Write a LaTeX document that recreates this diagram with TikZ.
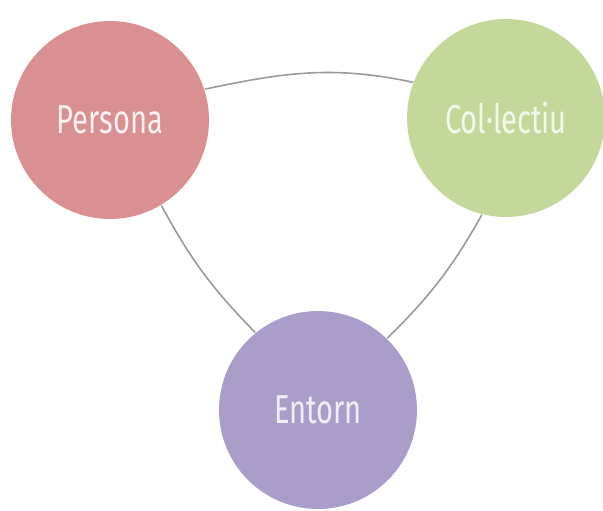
\documentclass[tikz,border=0pt]{standalone}
\usepackage{fontspec}
\newfontfamily\etiqueta[FakeStretch=0.72]{Fira Sans}
\definecolor{rosa}{HTML}{DA8F90}
\definecolor{verd}{HTML}{C5D89B}
\definecolor{lila}{HTML}{AB9DCA}
\definecolor{linia}{HTML}{9A9A9A}
\tikzstyle{cercle} = [circle,
                     minimum size=3.96cm,
                     inner sep=0pt,
                     font=\etiqueta\fontsize{23}{23}\selectfont]
\tikzstyle{diagrama} = [x=0.02cm,
                       y=-0.02cm,
                       line width=0.9pt,
                       draw=linia]

\begin{document}
\begin{tikzpicture}[diagrama]
    \useasboundingbox (0,0) rectangle (603,511);
    \node (persona) at (110,120) [cercle, fill=rosa, text=white!88!rosa] {Persona};
    \node (collectiu) at (506,118) [cercle, fill=verd, text=white!80!verd] {Col·lectiu};
    \node (entorn) at (318,410) [cercle, fill=lila, text=white!82!lila] {Entorn};
    \path[draw=linia]
      (persona.18) edge [out=12, in=168] (collectiu.159)
      (persona.-59) edge [bend right=8] (entorn.129)
      (collectiu.-104) edge [bend left=8] (entorn.46);
  \end{tikzpicture}
\end{document}
